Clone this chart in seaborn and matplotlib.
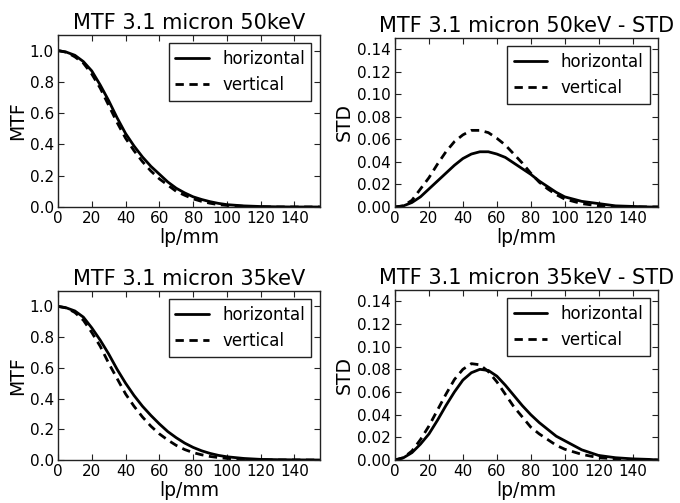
import numpy as np
import matplotlib
matplotlib.use("Agg")
import matplotlib.pyplot as plt
import seaborn as sns

# spatial frequency (lp/mm)
freq = [0, 5, 10, 15, 20, 25, 30, 35, 40, 45, 50, 55, 60, 65, 70, 75, 80, 85, 90, 95, 100,
        110, 120, 130, 140, 150, 155]

# MTF 50keV
mtf50_h = [1.0, 0.99, 0.97, 0.93, 0.87, 0.78, 0.68, 0.57, 0.47, 0.39, 0.32, 0.26, 0.21, 0.16, 0.12,
           0.09, 0.065, 0.048, 0.034, 0.023, 0.015, 0.007, 0.003, 0.001, 0.0, 0.0, 0.0]
mtf50_v = [1.0, 0.99, 0.96, 0.92, 0.85, 0.76, 0.65, 0.54, 0.44, 0.36, 0.29, 0.23, 0.18, 0.14, 0.10,
           0.075, 0.052, 0.036, 0.024, 0.015, 0.010, 0.004, 0.001, 0.0, 0.0, 0.0, 0.0]

# STD 50keV
std50_h = [0.0, 0.001, 0.004, 0.009, 0.016, 0.023, 0.030, 0.037, 0.043, 0.047, 0.049, 0.049, 0.047,
           0.044, 0.039, 0.034, 0.029, 0.023, 0.018, 0.013, 0.009, 0.005, 0.003, 0.001, 0.0005, 0.0, 0.0]
std50_v = [0.0, 0.001, 0.006, 0.016, 0.026, 0.038, 0.049, 0.058, 0.064, 0.068, 0.068, 0.066, 0.061,
           0.055, 0.047, 0.039, 0.030, 0.022, 0.016, 0.011, 0.007, 0.003, 0.001, 0.0, 0.0, 0.0, 0.0]

# MTF 35keV
mtf35_h = [1.0, 0.99, 0.97, 0.93, 0.86, 0.78, 0.69, 0.59, 0.50, 0.42, 0.35, 0.29, 0.235, 0.185, 0.145,
           0.11, 0.082, 0.06, 0.043, 0.030, 0.021, 0.010, 0.004, 0.002, 0.001, 0.0, 0.0]
mtf35_v = [1.0, 0.99, 0.96, 0.91, 0.83, 0.74, 0.63, 0.53, 0.43, 0.35, 0.28, 0.22, 0.17, 0.13, 0.095,
           0.068, 0.048, 0.034, 0.023, 0.016, 0.010, 0.004, 0.001, 0.0, 0.0, 0.0, 0.0]

# STD 35keV
std35_h = [0.0, 0.002, 0.0065, 0.014, 0.023, 0.035, 0.048, 0.060, 0.0705, 0.077, 0.080, 0.079, 0.074,
           0.066, 0.057, 0.048, 0.040, 0.033, 0.027, 0.021, 0.017, 0.009, 0.004, 0.002, 0.001, 0.0005, 0.0]
std35_v = [0.0, 0.002, 0.008, 0.018, 0.030, 0.044, 0.058, 0.071, 0.080, 0.085, 0.084, 0.078, 0.069,
           0.058, 0.047, 0.038, 0.029, 0.023, 0.018, 0.013, 0.0095, 0.005, 0.002, 0.001, 0.0, 0.0, 0.0]

sns.set_style("ticks")
plt.rcParams.update({
    "font.family": ["DejaVu Sans"],
    "text.color": "black", "axes.labelcolor": "black",
    "xtick.direction": "in", "ytick.direction": "in",
    "xtick.top": True, "ytick.right": True,
    "xtick.major.size": 4, "ytick.major.size": 4,
    "xtick.labelsize": 11, "ytick.labelsize": 11,
    "axes.edgecolor": "#222222", "axes.linewidth": 1.0,
    "xtick.color": "#222222", "ytick.color": "#222222",
    "xtick.labelcolor": "black", "ytick.labelcolor": "black",
})

fig = plt.figure(figsize=(6.8, 5.03), dpi=100)
panels = [
    ([0.0853, 0.5885, 0.385, 0.342], "MTF 3.1 micron 50keV", "MTF", mtf50_h, mtf50_v, 1.1),
    ([0.5809, 0.5885, 0.3868, 0.336], "MTF 3.1 micron 50keV - STD", "STD", std50_h, std50_v, 0.15),
    ([0.0853, 0.0855, 0.385, 0.336], "MTF 3.1 micron 35keV", "MTF", mtf35_h, mtf35_v, 1.1),
    ([0.5809, 0.0855, 0.3868, 0.338], "MTF 3.1 micron 35keV - STD", "STD", std35_h, std35_v, 0.15),
]

for rect, title, ylab, h, v, ytop in panels:
    ax = fig.add_axes(rect)
    sns.lineplot(x=freq, y=h, ax=ax, color="black", lw=2, label="horizontal")
    sns.lineplot(x=freq, y=v, ax=ax, color="black", lw=2, linestyle=(0, (3, 2)), label="vertical")
    ax.set_xlim(0, 155)
    ax.set_ylim(0, ytop)
    ax.set_xticks(range(0, 141, 20))
    if ytop > 1:
        ax.set_yticks(np.arange(0, 1.01, 0.2))
        ax.yaxis.set_major_formatter(matplotlib.ticker.FormatStrFormatter("%.1f"))
    else:
        ax.set_yticks(np.arange(0, 0.141, 0.02))
        ax.yaxis.set_major_formatter(matplotlib.ticker.FormatStrFormatter("%.2f"))
    ax.tick_params(pad=3)
    ax.set_title(title, fontsize=15, pad=4)
    ax.set_xlabel("lp/mm", fontsize=13.5, labelpad=1)
    ax.set_ylabel(ylab, fontsize=13.5, labelpad=2)
    leg = ax.legend(loc="upper right", fontsize=12, fancybox=False, framealpha=1,
                    edgecolor="#222222", handlelength=2.0)
    leg.get_frame().set_linewidth(1.0)

fig.savefig("out.png", dpi=100)
